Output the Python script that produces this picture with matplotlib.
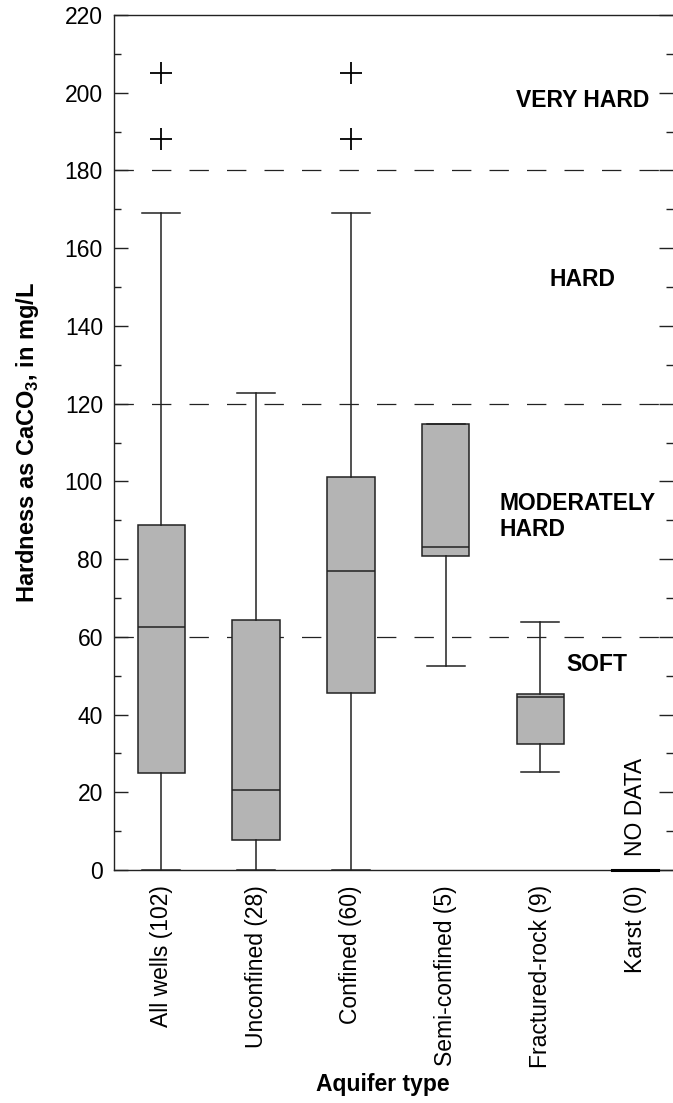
import matplotlib
matplotlib.use('Agg')
import matplotlib.pyplot as plt
from matplotlib.ticker import MultipleLocator

plt.rcParams['font.family'] = ['Liberation Sans', 'DejaVu Sans']
plt.rcParams['mathtext.fontset'] = 'custom'
plt.rcParams['mathtext.bf'] = 'Liberation Sans:bold'
plt.rcParams['mathtext.rm'] = 'Liberation Sans'

# box statistics (mg/L as CaCO3)
labels = ['All wells (102)', 'Unconfined (28)', 'Confined (60)',
          'Semi-confined (5)', 'Fractured-rock (9)', 'Karst (0)']
whislo = [0, 0, 0, 52.6, 25.3, 0]
q1 = [25, 7.7, 45.6, 80.7, 32.5, 0]
med = [62.6, 20.6, 77, 83.2, 44.6, 0]
q3 = [88.7, 64.2, 101, 114.7, 45.4, 0]
whishi = [169, 122.7, 169, 114.7, 63.7, 0]
outliers = [[188, 205], [], [188, 205], [], [], []]

# hardness class boundaries
class_lines = [60, 120, 180]

stats = []
for i in range(len(labels)):
    stats.append({'label': labels[i], 'whislo': whislo[i], 'q1': q1[i],
                  'med': med[i], 'q3': q3[i], 'whishi': whishi[i],
                  'fliers': outliers[i]})

fig = plt.figure(figsize=(6.73, 11.03), dpi=100)
ax = fig.add_axes([114 / 673, 1 - 870 / 1103, 1 - 114 / 673, (870 - 15) / 1103])

for y in class_lines:
    ax.axhline(y, color='#222222', lw=0.9, linestyle=(0, (15.5, 14.5)), zorder=1)

ax.bxp(stats, positions=range(1, 7), widths=0.5, patch_artist=True,
       showfliers=True, zorder=3,
       boxprops=dict(facecolor='#b4b4b4', edgecolor='#222222', linewidth=1.1),
       medianprops=dict(color='#222222', linewidth=1.1),
       whiskerprops=dict(color='#222222', linewidth=1.1),
       capprops=dict(color='#222222', linewidth=1.1),
       capwidths=0.4,
       flierprops=dict(marker='+', markersize=16, markeredgewidth=1.3,
                       markeredgecolor='black', linestyle='none'))
# karst: no data, thick line at zero
ax.plot([5.76, 6.24], [0, 0], color='black', lw=2.2, zorder=4, clip_on=False)

ax.set_xlim(0.5, 6.4)
ax.set_ylim(0, 220)
ax.yaxis.set_major_locator(MultipleLocator(20))
ax.yaxis.set_minor_locator(MultipleLocator(10))
ax.tick_params(axis='y', which='both', direction='in', left=True, right=True,
               labelsize=16.5, colors='#222222', labelcolor='black')
ax.tick_params(axis='y', which='major', length=10, width=1, pad=8)
ax.tick_params(axis='y', which='minor', length=5, width=1)
ax.tick_params(axis='x', length=0, labelsize=16.5, pad=11)
ax.set_xticks(range(1, 7))
ax.set_xticklabels(labels, rotation=90)

ax.spines['right'].set_visible(False)
for s in ['left', 'top', 'bottom']:
    ax.spines[s].set_color('#222222')
    ax.spines[s].set_linewidth(1)

ax.set_xlabel('Aquifer type', fontsize=16.5, fontweight='bold')
ax.xaxis.set_label_coords(0.481, -0.238)
ax.set_ylabel(r'Hardness as CaCO$_\mathbf{3}$, in mg/L', fontsize=17,
              fontweight='bold', labelpad=17)

ax.text(5.45, 198, 'VERY HARD', fontsize=16.5, fontweight='bold', ha='center', va='center')
ax.text(5.45, 152, 'HARD', fontsize=16.5, fontweight='bold', ha='center', va='center')
ax.text(4.57, 91, 'MODERATELY\nHARD', fontsize=16.5, fontweight='bold', ha='left',
        va='center', linespacing=1.15)
ax.text(5.6, 53, 'SOFT', fontsize=16.5, fontweight='bold', ha='center', va='center')
ax.text(6.0, 3.5, 'NO DATA', fontsize=16.5, rotation=90, ha='center', va='bottom')

fig.savefig('out.png', dpi=100)
